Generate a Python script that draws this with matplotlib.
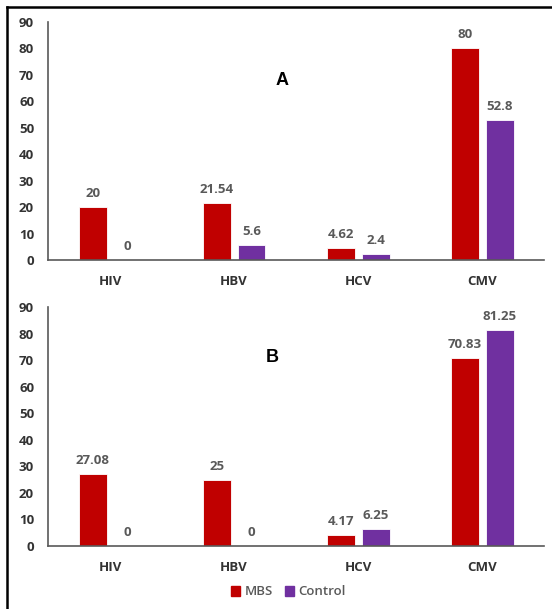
import numpy as np
import matplotlib.pyplot as plt
from matplotlib.lines import Line2D
from matplotlib.patches import Patch

viruses = ['HIV', 'HBV', 'HCV', 'CMV']
mbs_a = [20, 21.54, 4.62, 80]
control_a = [0, 5.6, 2.4, 52.8]
mbs_b = [27.08, 25, 4.17, 70.83]
control_b = [0, 0, 6.25, 81.25]
yticks = [0, 10, 20, 30, 40, 50, 60, 70, 80, 90]

red = '#C00000'
purple = '#7030A0'
fnt = 'Open Sans'

fig = plt.figure(figsize=(5.52, 6.09), dpi=100)
ax_a = fig.add_axes([0.087, 0.573, 0.899, 0.391])
ax_b = fig.add_axes([0.087, 0.1034, 0.899, 0.3925])

def draw(ax, mbs, ctrl, letter, lx, ly):
    x = np.arange(len(viruses))
    w = 0.225
    b1 = ax.bar(x - 0.14, mbs, w, color=red, edgecolor='white', linewidth=0.6)
    b2 = ax.bar(x + 0.14, ctrl, w, color=purple, edgecolor='white', linewidth=0.6)
    for bars, vals in [(b1, mbs), (b2, ctrl)]:
        for r, v in zip(bars, vals):
            ax.annotate('%g' % v, (r.get_x() + r.get_width() / 2, v),
                        xytext=(0, 5), textcoords='offset points',
                        ha='center', va='bottom', fontsize=9.5, fontweight='bold',
                        color='#595959', family=fnt)
    ax.set_xlim(-0.5, 3.5)
    ax.set_ylim(0, 90)
    ax.set_yticks(yticks)
    ax.set_xticks(x)
    ax.set_xticklabels(viruses)
    for s in ['top', 'right']:
        ax.spines[s].set_visible(False)
    ax.spines['left'].set_color('#595959')
    ax.spines['bottom'].set_color('#595959')
    ax.spines['left'].set_linewidth(1.2)
    ax.spines['bottom'].set_linewidth(1.2)
    ax.tick_params(axis='both', length=0)
    ax.tick_params(axis='x', pad=11)
    ax.tick_params(axis='y', pad=10)
    for t in ax.get_xticklabels() + ax.get_yticklabels():
        t.set_fontsize(9.5)
        t.set_fontweight('bold')
        t.set_color('#333333')
        t.set_family(fnt)
    ax.text(lx, ly, letter, transform=ax.transAxes, fontsize=13,
            fontweight='bold', family='Liberation Sans', ha='center', va='center')

draw(ax_a, mbs_a, control_a, 'A', 0.472, 0.752)
draw(ax_b, mbs_b, control_b, 'B', 0.452, 0.787)

handles = [Patch(color=red, label='MBS'), Patch(color=purple, label='Control')]
leg = fig.legend(handles=handles, loc='center', bbox_to_anchor=(0.522, 0.028),
                 ncol=2, frameon=False, handlelength=0.75, handleheight=0.75,
                 handletextpad=0.3, columnspacing=0.9,
                 prop={'family': fnt, 'size': 9.5, 'weight': 'semibold'})
for t in leg.get_texts():
    t.set_color('#595959')

# border on top and left
fig.add_artist(Line2D([0.013, 0.013], [0, 0.9885], color='black', lw=1.8,
                      transform=fig.transFigure))
fig.add_artist(Line2D([0.013, 1.0], [0.9885, 0.9885], color='black', lw=1.8,
                      transform=fig.transFigure))

fig.savefig('out.png', dpi=100)
